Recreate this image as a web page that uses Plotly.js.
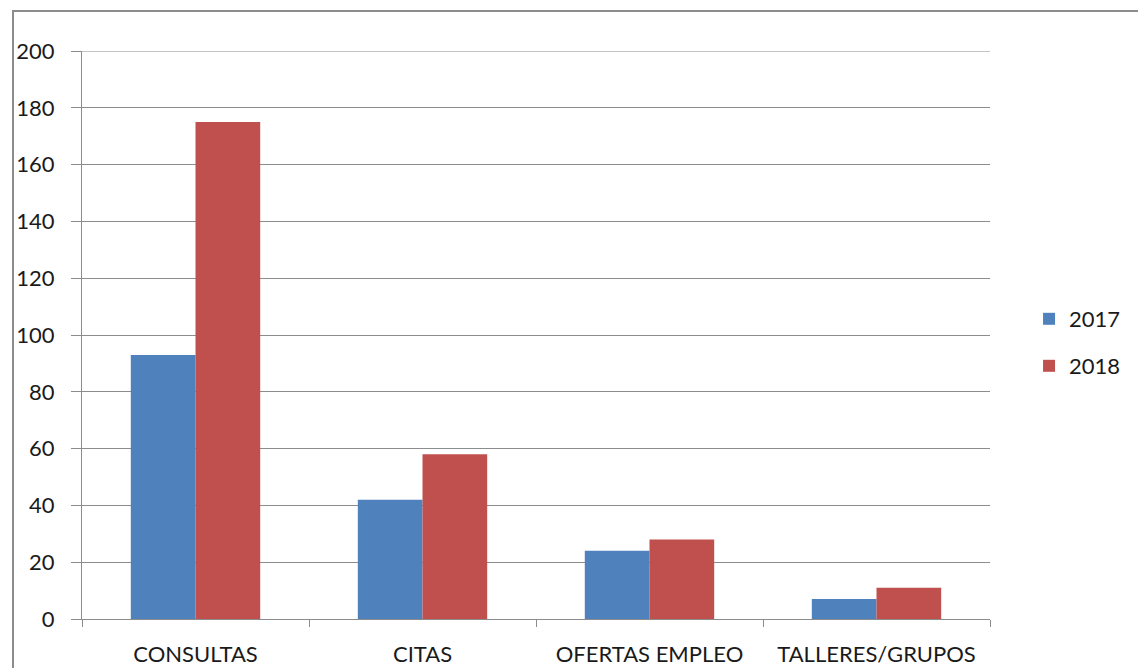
<!DOCTYPE html>
<html>
<head>
<meta charset="utf-8">
<script src="https://cdn.plot.ly/plotly-3.0.1.min.js"></script>
<style>
  html, body { margin: 0; padding: 0; background: #fff; }
  #wrap { position: relative; width: 1138px; height: 668px; overflow: hidden; background: #fff; }
  #frame { position: absolute; left: 12px; top: 10px; width: 1200px; height: 700px;
           border-left: 2px solid #8c8c8c; border-top: 2px solid #8c8c8c; box-sizing: border-box; }
  #chart { position: absolute; left: 0; top: 0; width: 1138px; height: 668px; }
</style>
</head>
<body>
<div id="wrap">
  <div id="frame"></div>
  <div id="chart"></div>
</div>
<script>
const categories = ["CONSULTAS", "CITAS", "OFERTAS EMPLEO", "TALLERES/GRUPOS"];
const values2017 = [93, 42, 24, 7];
const values2018 = [175, 58, 28, 11];
const yTicks = [0, 20, 40, 60, 80, 100, 120, 140, 160, 180, 200];

const fontFam = "Lato, 'Open Sans', sans-serif";
const textColor = "#1a1a1a";
const fontSize = 22;

const traces = [
  { type: "bar", name: "2017", x: categories, y: values2017,
    marker: { color: "#4F81BD" }, legend: "legend" },
  { type: "bar", name: "2018", x: categories, y: values2018,
    marker: { color: "#C0504D" }, legend: "legend2" }
];

const legendBase = {
  xref: "paper", yref: "paper", xanchor: "left", yanchor: "middle",
  bgcolor: "rgba(0,0,0,0)", font: { family: fontFam, size: fontSize, color: textColor },
  itemwidth: 30
};

function paperY(px) { return 1 - (px - 51) / 568; }

const layout = {
  width: 1138, height: 668,
  margin: { l: 82, r: 148, t: 51, b: 49, autoexpand: false },
  paper_bgcolor: "rgba(0,0,0,0)", plot_bgcolor: "rgba(0,0,0,0)",
  barmode: "group", bargap: 0.43, bargroupgap: 0,
  showlegend: true,
  legend: Object.assign({}, legendBase, { x: 1.043, y: paperY(319) }),
  legend2: Object.assign({}, legendBase, { x: 1.043, y: paperY(366) }),
  font: { family: fontFam, size: fontSize, color: textColor },
  xaxis: {
    type: "category",
    showgrid: false, zeroline: false,
    showline: true, linecolor: "#8c8c8c", linewidth: 1,
    ticks: "outside", tickson: "boundaries", ticklen: 7, tickcolor: "#8c8c8c",
    tickfont: { family: fontFam, size: fontSize, color: textColor },
    ticklabelstandoff: 16
  },
  yaxis: {
    range: [0, 200], tickvals: yTicks, ticktext: yTicks.map(String),
    showgrid: true, gridcolor: "#8c8c8c", gridwidth: 1,
    zeroline: false,
    showline: true, linecolor: "#8c8c8c", linewidth: 1,
    ticks: "outside", ticklen: 10, tickcolor: "#8c8c8c",
    tickfont: { family: fontFam, size: fontSize, color: textColor },
    ticklabelstandoff: 12
  },
  shapes: [
    { type: "line", xref: "paper", yref: "y", x0: 0, x1: 1, y0: 200, y1: 200,
      line: { color: "#8c8c8c", width: 1 }, layer: "below" }
  ]
};

Plotly.newPlot("chart", traces, layout, { displayModeBar: false, staticPlot: true });
</script>
</body>
</html>
